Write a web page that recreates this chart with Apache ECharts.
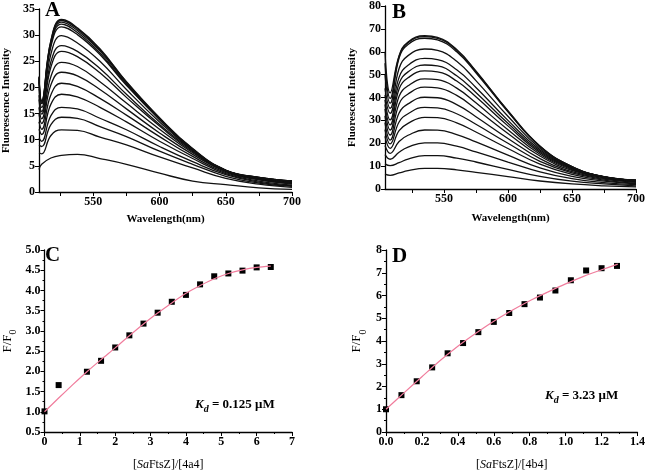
<!DOCTYPE html>
<html><head><meta charset="utf-8">
<script src="https://cdn.jsdelivr.net/npm/echarts@6/dist/echarts.min.js"></script>
<style>html,body{margin:0;padding:0;background:#fff}#c{width:648px;height:472px}</style>
</head><body><div id="c"></div>
<script>
// Panel A: wavelengths and 16 emission spectra
const wlA = [509, 511, 518, 526, 538, 555, 575, 600, 625, 650, 675, 700];
const specA = [
  [4.3, 5.3, 6.5, 7.0, 7.2, 6.4, 5.3, 3.6, 2.1, 1.4, 0.8, 0.5],
  [7.5, 7.3, 10.8, 11.9, 11.8, 10.5, 9.0, 6.7, 4.6, 2.6, 1.5, 0.9],
  [9.0, 8.7, 12.9, 14.3, 14.1, 12.5, 10.6, 7.8, 5.3, 3.0, 1.7, 1.1],
  [10.3, 9.7, 14.6, 16.2, 15.9, 14.1, 11.9, 8.7, 5.8, 3.3, 1.9, 1.2],
  [12.0, 11.0, 16.8, 18.7, 18.2, 16.2, 13.4, 9.7, 6.4, 3.5, 2.1, 1.3],
  [13.4, 12.0, 18.6, 20.8, 20.2, 17.9, 14.7, 10.6, 6.8, 3.7, 2.3, 1.5],
  [14.9, 13.1, 20.5, 22.9, 22.2, 19.6, 15.9, 11.3, 7.2, 3.9, 2.4, 1.6],
  [16.2, 14.0, 22.1, 24.8, 24.0, 21.1, 17.0, 12.0, 7.5, 4.0, 2.5, 1.7],
  [17.7, 14.9, 23.9, 26.9, 25.9, 22.8, 18.1, 12.6, 7.7, 4.1, 2.6, 1.8],
  [18.5, 15.4, 24.9, 28.0, 26.9, 23.6, 18.7, 12.9, 7.9, 4.1, 2.6, 1.9],
  [19.8, 16.2, 26.4, 29.9, 28.5, 25.0, 19.6, 13.4, 8.0, 4.1, 2.7, 2.0],
  [21.1, 16.9, 27.8, 31.6, 30.1, 26.3, 20.4, 13.9, 8.2, 4.1, 2.8, 2.1],
  [21.5, 17.0, 28.3, 32.1, 30.5, 26.6, 20.6, 13.8, 8.0, 4.1, 2.7, 2.05],
  [21.8, 17.2, 28.6, 32.5, 30.9, 27.0, 20.8, 14.0, 8.1, 4.1, 2.75, 2.08],
  [22.0, 17.4, 28.9, 32.8, 31.2, 27.2, 21.0, 14.1, 8.2, 4.15, 2.8, 2.1],
  [22.1, 17.5, 29.0, 33.0, 31.4, 27.4, 21.1, 14.2, 8.3, 4.2, 2.8, 2.1]
];
// Panel B
const wlB = [504, 508, 515, 522, 535, 545, 560, 575, 600, 625, 650, 675, 700];
const specB = [
  [6.5, 6.0, 7.0, 8.0, 9.0, 9.0, 8.4, 7.3, 5.4, 3.5, 2.2, 1.4, 0.9],
  [11.0, 10.2, 11.5, 13.1, 14.6, 14.6, 13.5, 11.8, 8.6, 5.5, 3.4, 2.2, 1.4],
  [15.0, 13.0, 16.1, 18.3, 20.2, 20.2, 18.7, 16.2, 11.8, 7.5, 4.5, 2.8, 1.9],
  [19.0, 15.6, 20.8, 23.5, 25.8, 25.7, 23.8, 20.6, 14.8, 9.2, 5.5, 3.4, 2.3],
  [23.0, 17.8, 25.5, 28.7, 31.3, 31.2, 28.9, 24.9, 17.7, 10.9, 6.4, 3.9, 2.6],
  [26.0, 19.7, 29.3, 32.9, 35.7, 35.5, 32.9, 28.3, 20.0, 12.1, 7.0, 4.3, 2.9],
  [29.0, 21.4, 33.2, 37.2, 40.1, 39.9, 36.9, 31.6, 22.1, 13.3, 7.6, 4.6, 3.1],
  [32.0, 23.6, 37.2, 41.5, 44.5, 44.2, 40.9, 35.0, 24.3, 14.4, 8.1, 4.9, 3.3],
  [35.0, 25.8, 40.5, 45.1, 48.1, 47.8, 44.1, 37.7, 25.9, 15.2, 8.5, 5.0, 3.5],
  [37.0, 28.0, 43.7, 48.6, 51.6, 51.2, 47.2, 40.3, 27.6, 15.9, 8.8, 5.2, 3.6],
  [39.0, 30.2, 46.1, 51.2, 54.2, 53.8, 49.5, 42.2, 28.7, 16.5, 9.1, 5.3, 3.6],
  [41.0, 33.1, 48.8, 54.1, 57.1, 56.6, 52.1, 44.4, 30.0, 17.1, 9.3, 5.3, 3.7],
  [44.0, 35.3, 52.7, 58.3, 61.2, 60.6, 55.8, 47.4, 31.8, 17.8, 9.5, 5.4, 3.8],
  [50.0, 37.5, 57.2, 63.2, 65.9, 65.2, 60.0, 50.8, 33.7, 18.6, 9.8, 5.3, 3.9],
  [55.0, 39.6, 57.9, 63.9, 66.6, 65.9, 60.6, 51.3, 34.0, 18.6, 9.7, 5.3, 3.9],
  [60.0, 42.0, 58.3, 64.3, 67.0, 66.3, 61.0, 51.6, 34.2, 18.8, 9.8, 5.4, 3.9]
];
// Panel C
const ratioC = [0, 0.4, 1.2, 1.6, 2.0, 2.4, 2.8, 3.2, 3.6, 4.0, 4.4, 4.8, 5.2, 5.6, 6.0, 6.4];
const ffC = [1.01, 1.66, 1.99, 2.26, 2.59, 2.89, 3.18, 3.45, 3.72, 3.89, 4.15, 4.35, 4.42, 4.49, 4.57, 4.58];
const fitXC = [0, 0.4, 0.8, 1.2, 1.6, 2.0, 2.4, 2.8, 3.2, 3.6, 4.0, 4.4, 4.8, 5.2, 5.6, 6.0, 6.4];
const fitYC = [1.0, 1.34, 1.67, 1.99, 2.29, 2.58, 2.88, 3.17, 3.44, 3.69, 3.93, 4.12, 4.29, 4.42, 4.51, 4.57, 4.60];
// Panel D
const ratioD = [0, 0.086, 0.171, 0.257, 0.343, 0.429, 0.514, 0.6, 0.686, 0.771, 0.857, 0.943, 1.029, 1.114, 1.2, 1.286];
const ffD = [1.0, 1.62, 2.23, 2.84, 3.46, 3.91, 4.39, 4.84, 5.23, 5.62, 5.91, 6.22, 6.67, 7.10, 7.20, 7.30];
const fitXD = [0, 0.1, 0.2, 0.3, 0.4, 0.5, 0.6, 0.7, 0.8, 0.9, 1.0, 1.1, 1.2, 1.29];
const fitYD = [1.0, 1.72, 2.43, 3.13, 3.77, 4.34, 4.87, 5.34, 5.77, 6.15, 6.51, 6.84, 7.13, 7.38];
// Tick labels
const wlLabels = [550, 600, 650, 700];
const wlTicks = [525, 550, 575, 600, 625, 650, 675, 700];

const SERIF = 'Liberation Serif';
const chart = echarts.init(document.getElementById('c'), null, {renderer: 'canvas'});

function lbl(extra) {
  return Object.assign({color: '#000', fontFamily: SERIF, fontWeight: 'bold', fontSize: 12, margin: 4}, extra || {});
}
const axLine = {show: true, onZero: false, lineStyle: {color: '#000', width: 1.3}};
const tick = {show: true, inside: false, length: 4, lineStyle: {color: '#000', width: 1}};
const minor = {show: true, splitNumber: 2, length: 2, lineStyle: {color: '#000', width: 1}};

const xAxes = [
  {gridIndex: 0, type: 'value', min: 509, max: 700, axisLine: axLine,
   axisTick: Object.assign({}, tick, {customValues: wlTicks}),
   axisLabel: lbl({customValues: wlLabels}), splitLine: {show: false},
   name: 'Wavelength(nm)', nameLocation: 'middle', nameGap: 22,
   nameTextStyle: {fontFamily: SERIF, fontWeight: 'bold', fontSize: 11, color: '#000'}},
  {gridIndex: 1, type: 'value', min: 504, max: 700, axisLine: axLine,
   axisTick: Object.assign({}, tick, {customValues: wlTicks}),
   axisLabel: lbl({customValues: wlLabels}), splitLine: {show: false},
   name: 'Wavelength(nm)', nameLocation: 'middle', nameGap: 24,
   nameTextStyle: {fontFamily: SERIF, fontWeight: 'bold', fontSize: 11, color: '#000'}},
  {gridIndex: 2, type: 'value', min: 0, max: 7, interval: 1, axisLine: axLine, axisTick: tick, minorTick: minor,
   axisLabel: lbl(), splitLine: {show: false},
   name: '[{i|Sa}FtsZ]/[4a4]', nameLocation: 'middle', nameGap: 27,
   nameTextStyle: {fontFamily: SERIF, fontSize: 12, color: '#000', rich: {i: {fontFamily: SERIF, fontStyle: 'italic', fontSize: 12, color: '#000'}}}},
  {gridIndex: 3, type: 'value', min: 0, max: 1.4, interval: 0.2, axisLine: axLine, axisTick: tick, minorTick: minor,
   axisLabel: lbl({formatter: v => v.toFixed(1)}), splitLine: {show: false},
   name: '[{i|Sa}FtsZ]/[4b4]', nameLocation: 'middle', nameGap: 27,
   nameTextStyle: {fontFamily: SERIF, fontSize: 12, color: '#000', rich: {i: {fontFamily: SERIF, fontStyle: 'italic', fontSize: 12, color: '#000'}}}}
];
const ffRich = {
  a: {fontFamily: SERIF, fontSize: 13, color: '#000', lineHeight: 14, verticalAlign: 'middle'},
  b: {fontFamily: SERIF, fontSize: 10, color: '#000', lineHeight: 22, verticalAlign: 'bottom'}
};
const yAxes = [
  {gridIndex: 0, type: 'value', min: 0, max: 35, interval: 5, axisLine: axLine, axisTick: tick,
   axisLabel: lbl(), splitLine: {show: false},
   name: 'Fluorescence Intensity', nameLocation: 'middle', nameGap: 27,
   nameTextStyle: {fontFamily: SERIF, fontWeight: 'bold', fontSize: 11, color: '#000'}},
  {gridIndex: 1, type: 'value', min: 0, max: 80, interval: 10, axisLine: axLine, axisTick: tick,
   axisLabel: lbl(), splitLine: {show: false},
   name: 'Fluorescent Intensity', nameLocation: 'middle', nameGap: 27,
   nameTextStyle: {fontFamily: SERIF, fontWeight: 'bold', fontSize: 11, color: '#000'}},
  {gridIndex: 2, type: 'value', min: 0.5, max: 5.0, interval: 0.5, axisLine: axLine, axisTick: tick, minorTick: minor,
   axisLabel: lbl({formatter: v => v.toFixed(1)}), splitLine: {show: false},
   name: '{a|F/F}{b|0}', nameLocation: 'middle', nameGap: 26,
   nameTextStyle: {rich: ffRich}},
  {gridIndex: 3, type: 'value', min: 0, max: 8, interval: 1, axisLine: axLine, axisTick: tick, minorTick: minor,
   axisLabel: lbl(), splitLine: {show: false},
   name: '{a|F/F}{b|0}', nameLocation: 'middle', nameGap: 18,
   nameTextStyle: {rich: ffRich}}
];

const series = [];
specA.forEach(c => series.push({type: 'line', xAxisIndex: 0, yAxisIndex: 0, symbol: 'none', smooth: 0.45,
  lineStyle: {color: '#111', width: 1.3}, data: wlA.map((w, i) => [w, c[i]]), silent: true}));
specB.forEach(c => series.push({type: 'line', xAxisIndex: 1, yAxisIndex: 1, symbol: 'none', smooth: 0.45,
  lineStyle: {color: '#111', width: 1.3}, data: wlB.map((w, i) => [w, c[i]]), silent: true}));
series.push({type: 'line', xAxisIndex: 2, yAxisIndex: 2, symbol: 'none', smooth: 0.3,
  lineStyle: {color: '#f07c9c', width: 1.2}, data: fitXC.map((x, i) => [x, fitYC[i]])});
series.push({type: 'scatter', xAxisIndex: 2, yAxisIndex: 2, symbol: 'rect', symbolSize: 6,
  itemStyle: {color: '#000', opacity: 1}, data: ratioC.map((x, i) => [x, ffC[i]])});
series.push({type: 'line', xAxisIndex: 3, yAxisIndex: 3, symbol: 'none', smooth: 0.3,
  lineStyle: {color: '#f07c9c', width: 1.2}, data: fitXD.map((x, i) => [x, fitYD[i]])});
series.push({type: 'scatter', xAxisIndex: 3, yAxisIndex: 3, symbol: 'rect', symbolSize: 6,
  itemStyle: {color: '#000', opacity: 1}, data: ratioD.map((x, i) => [x, ffD[i]])});

const letter = (t, x, y) => ({type: 'text', left: x, top: y, style: {text: t, fontFamily: SERIF, fontWeight: 'bold', fontSize: 21, fill: '#000'}});
const kdRich = {
  i: {fontFamily: SERIF, fontStyle: 'italic', fontWeight: 'bold', fontSize: 13, fill: '#000', lineHeight: 14, verticalAlign: 'middle'},
  s: {fontFamily: SERIF, fontStyle: 'italic', fontWeight: 'bold', fontSize: 10, fill: '#000', lineHeight: 20, verticalAlign: 'bottom'},
  n: {fontFamily: SERIF, fontWeight: 'bold', fontSize: 13, fill: '#000', lineHeight: 14, verticalAlign: 'middle'}
};

chart.setOption({
  animation: false,
  backgroundColor: '#fff',
  grid: [
    {left: 38, top: 9, width: 254, height: 183},
    {left: 385, top: 6, width: 254, height: 183},
    {left: 39, top: 250, width: 253, height: 184},
    {left: 386, top: 250, width: 253, height: 184}
  ],
  xAxis: xAxes,
  yAxis: yAxes,
  series: series,
  graphic: [
    letter('A', 45, 0),
    letter('B', 392, 2),
    letter('C', 45, 245),
    letter('D', 392, 246),
    {type: 'text', left: 195, top: 398, style: {text: '{i|K}{s|d}{n| = 0.125 μM}', rich: kdRich}},
    {type: 'text', left: 545, top: 389, style: {text: '{i|K}{s|d}{n| = 3.23 μM}', rich: kdRich}}
  ]
});
</script></body></html>
